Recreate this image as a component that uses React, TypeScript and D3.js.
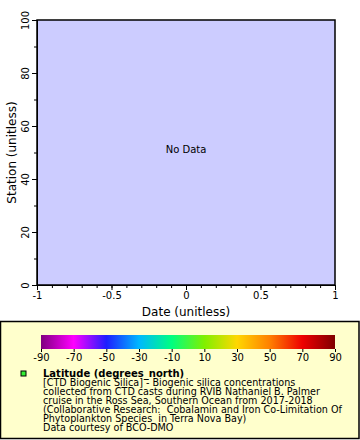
import React, { useEffect, useRef } from 'react';
import * as d3 from 'd3';

// axis ranges (no data plotted)
const xDomain = [-1, 1];
const yDomain = [0, 100];
const xTicks = [-1, -0.5, 0, 0.5, 1];
const yTicks = [0, 20, 40, 60, 80, 100];

// colour bar
const barTicks = [-90, -70, -50, -30, -10, 10, 30, 50, 70, 90];
const barColors = ['#800080', '#ff00ff', '#1e1eff', '#00b8ff', '#00ff80', '#80f000', '#ffd700', '#ff8000', '#ee0000', '#800000'];

const legendLines = [
  '[CTD Biogenic Silica] - Biogenic silica concentrations',
  'collected from CTD casts during RVIB Nathaniel B. Palmer',
  'cruise in the Ross Sea, Southern Ocean from 2017-2018',
  '(Collaborative Research:  Cobalamin and Iron Co-Limitation Of',
  'Phytoplankton Species  in Terra Nova Bay)',
  'Data courtesy of BCO-DMO',
];

function App() {
  const ref = useRef<SVGSVGElement>(null);

  useEffect(() => {
    const svg = d3.select(ref.current);
    svg.selectAll('*').remove();
    const font = 'DejaVu Sans, sans-serif';
    const fmt = (d: any) => String(d);

    const margin = { top: 20, left: 37, right: 25, bottom: 155 };
    const width = 360 - margin.left - margin.right;
    const height = 440 - margin.top - margin.bottom;

    const x = d3.scaleLinear().domain(xDomain).range([0, width]);
    const y = d3.scaleLinear().domain(yDomain).range([height, 0]);

    const g = svg.append('g').attr('transform', `translate(${margin.left},${margin.top})`);

    g.append('rect').attr('width', width).attr('height', height).attr('fill', '#ccccff');

    g.append('text')
      .attr('x', width / 2).attr('y', height / 2 - 3)
      .attr('text-anchor', 'middle').attr('dy', '0.35em')
      .attr('font-family', font).attr('font-size', 10).text('No Data');

    // minor ticks
    g.append('g').attr('transform', `translate(0,${height})`)
      .call(d3.axisBottom(x).tickValues(d3.range(-10, 11).map(d => d / 10)).tickSize(3).tickFormat(() => ''))
      .call(a => a.select('.domain').remove());
    g.append('g')
      .call(d3.axisLeft(y).tickValues(d3.range(0, 101, 10)).tickSize(3).tickFormat(() => ''))
      .call(a => a.select('.domain').remove());

    const xa = g.append('g').attr('transform', `translate(0,${height})`)
      .call(d3.axisBottom(x).tickValues(xTicks).tickSize(5).tickPadding(2).tickFormat(fmt));
    xa.selectAll('text').attr('font-family', font).attr('font-size', 10).attr('fill', '#000');

    const ya = g.append('g')
      .call(d3.axisLeft(y).tickValues(yTicks).tickSize(5).tickPadding(2).tickFormat(fmt));
    ya.selectAll('text')
      .attr('font-family', font).attr('font-size', 10).attr('fill', '#000')
      .attr('transform', 'rotate(-90)').attr('text-anchor', 'middle')
      .attr('x', 0).attr('dy', 0).attr('y', -8);

    g.append('rect').attr('width', width).attr('height', height)
      .attr('fill', 'none').attr('stroke', '#000').attr('stroke-width', 1.5);

    g.append('text')
      .attr('x', width / 2).attr('y', height + 31)
      .attr('text-anchor', 'middle').attr('font-family', font).attr('font-size', 12)
      .text('Date (unitless)');
    g.append('text')
      .attr('transform', `translate(-21,${height / 2}) rotate(-90)`)
      .attr('text-anchor', 'middle').attr('font-family', font).attr('font-size', 12)
      .text('Station (unitless)');

    // legend
    const lg = svg.append('g');
    lg.append('rect').attr('x', 0.5).attr('y', 321.5).attr('width', 358.5).attr('height', 117)
      .attr('fill', '#ffffcc').attr('stroke', '#000').attr('stroke-width', 1.5);

    const bx = d3.scaleLinear().domain([-90, 90]).range([41, 335]);
    const grad = svg.append('defs').append('linearGradient').attr('id', 'cbar');
    barTicks.forEach((t, i) => {
      grad.append('stop').attr('offset', `${((t + 90) / 180) * 100}%`).attr('stop-color', barColors[i]);
    });
    lg.append('rect').attr('x', bx(-90)).attr('y', 335).attr('width', bx(90) - bx(-90)).attr('height', 14)
      .attr('fill', 'url(#cbar)');
    const ba = lg.append('g').attr('transform', 'translate(0,349)')
      .call(d3.axisBottom(bx).tickValues(barTicks).tickSize(3).tickPadding(2).tickFormat(fmt));
    ba.select('.domain').remove();
    ba.selectAll('text').attr('font-family', font).attr('font-size', 10).attr('fill', '#000');

    lg.append('rect').attr('x', 21).attr('y', 371).attr('width', 5).attr('height', 5)
      .attr('fill', '#33ee33').attr('stroke', '#000').attr('stroke-width', 1);
    lg.append('text').attr('x', 43).attr('y', 377)
      .attr('font-family', font).attr('font-size', 10).attr('font-weight', 'bold')
      .text('Latitude (degrees_north)');
    lg.selectAll('.ll').data(legendLines).enter().append('text')
      .attr('x', 43).attr('y', (d, i) => 386 + i * 9)
      .attr('font-family', font).attr('font-size', 9.6)
      .attr('xml:space', 'preserve').style('white-space', 'pre')
      .text(d => d);
  }, []);

  return <svg ref={ref} width={360} height={440} style={{ position: 'absolute', left: 0, top: 0 }} />;
}

export default App;
